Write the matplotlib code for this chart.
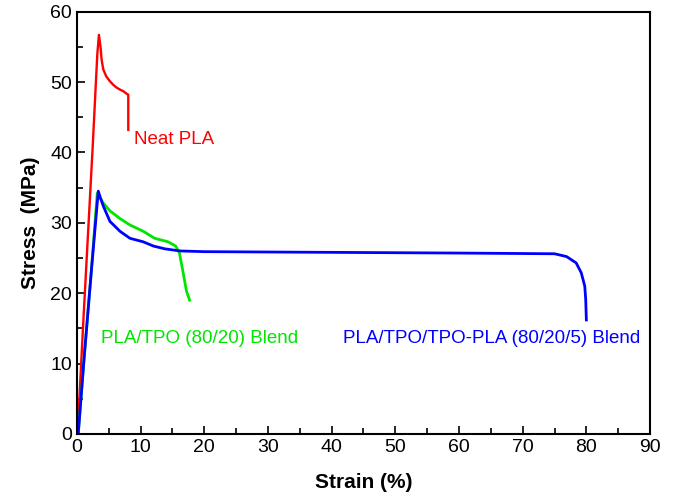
import matplotlib.pyplot as plt
from matplotlib.ticker import MultipleLocator

plt.rcParams['font.family'] = ['Liberation Sans', 'DejaVu Sans']

# Neat PLA (strain %, stress MPa)
pla_x = [0.1, 1.0, 2.46, 3.2, 3.45, 3.7, 3.87, 4.13, 4.6, 5.18, 5.7, 6.23, 6.8, 7.27, 7.7, 8.06, 8.06]
pla_y = [0.0, 16.0, 40.6, 54.0, 56.7, 55.0, 53.2, 51.8, 50.8, 50.1, 49.6, 49.2, 48.9, 48.7, 48.4, 48.2, 43.2]

# PLA/TPO (80/20) blend
blend_x = [0.2, 1.1, 2.2, 3.19, 3.6, 4.13, 5.18, 6.75, 8.3, 10.4, 12.2, 14.3, 15.5, 16.1, 16.6, 17.2, 17.7]
blend_y = [0.0, 10.5, 22.5, 34.2, 33.6, 32.8, 31.7, 30.6, 29.7, 28.8, 27.8, 27.3, 26.7, 25.7, 23.3, 20.3, 19.0]

# PLA/TPO/TPO-PLA (80/20/5) blend
comp_x = [0.2, 1.1, 2.2, 3.35, 3.7, 4.13, 5.18, 6.75, 8.32, 10.4, 12.0, 13.8, 16.2, 20.0, 40.0, 60.0,
          75.0, 76.9, 78.4, 79.2, 79.75, 79.9, 80.0]
comp_y = [0.0, 10.5, 22.5, 34.5, 33.5, 32.4, 30.2, 28.8, 27.8, 27.3, 26.7, 26.3, 26.0, 25.9, 25.8, 25.7,
          25.6, 25.2, 24.3, 22.9, 21.0, 19.1, 16.2]

fig = plt.figure(figsize=(6.75, 4.94), dpi=100)
ax = fig.add_axes([0.114, 0.1215, 0.849, 0.855])

ax.plot(pla_x, pla_y, color='#ff0000', lw=1.7)
ax.plot(blend_x, blend_y, color='#00e600', lw=2.0)
ax.plot(comp_x, comp_y, color='#0000ff', lw=2.0)

ax.text(8.95, 41.8, 'Neat PLA', color='#ff0000', fontsize=13.5, va='center')
ax.text(3.8, 13.5, 'PLA/TPO (80/20) Blend', color='#00e600', fontsize=13.5, va='center')
ax.text(41.8, 13.5, 'PLA/TPO/TPO-PLA (80/20/5) Blend', color='#0000ff', fontsize=13.5, va='center')

ax.set_xlim(0, 90)
ax.set_ylim(0, 60)
ax.xaxis.set_major_locator(MultipleLocator(10))
ax.xaxis.set_minor_locator(MultipleLocator(5))
ax.yaxis.set_major_locator(MultipleLocator(10))
ax.yaxis.set_minor_locator(MultipleLocator(5))
ax.tick_params(which='both', direction='in', labelsize=14, width=1.2)
ax.tick_params(which='major', length=6)
ax.tick_params(which='minor', length=4)
for s in ax.spines.values():
    s.set_linewidth(1.5)

ax.set_xlabel('Strain (%)', fontsize=15, fontweight='bold', labelpad=12)
ax.set_ylabel('Stress  (MPa)', fontsize=15, fontweight='bold', labelpad=7)

fig.savefig('out.png', dpi=100)
